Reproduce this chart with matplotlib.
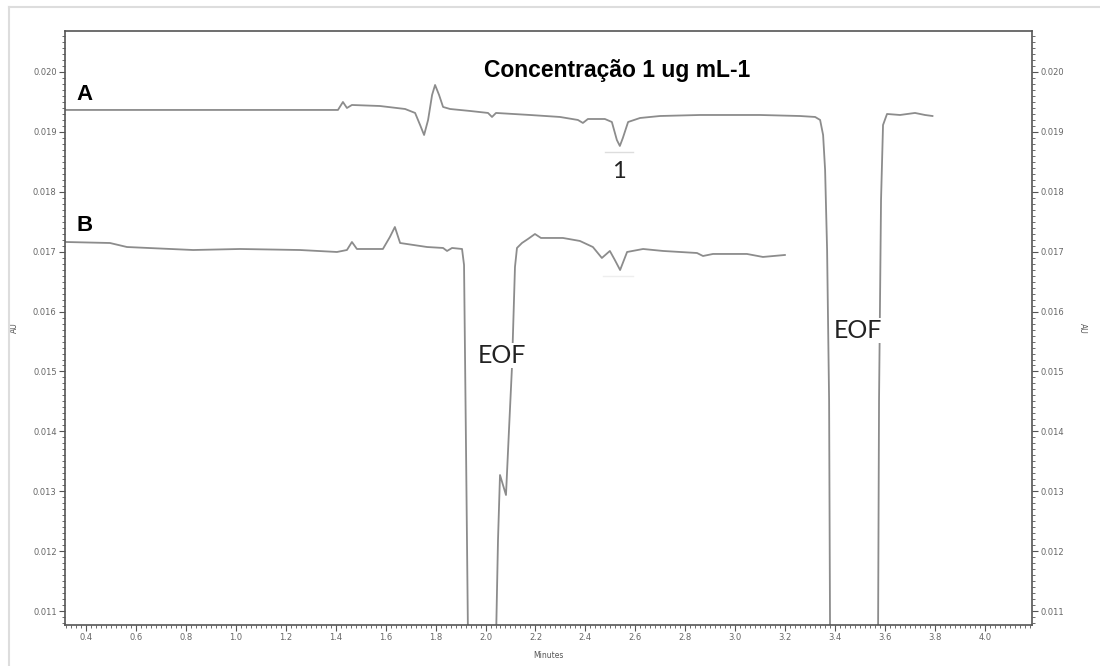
import matplotlib
matplotlib.use("Agg")
import matplotlib.pyplot as plt
from matplotlib.ticker import MultipleLocator, FormatStrFormatter
from matplotlib.lines import Line2D

# ---- data ----
a_x = [0.316, 0.857, 1.257, 1.409, 1.429, 1.445, 1.465, 1.577, 1.678, 1.718, 1.738, 1.754,
       1.770, 1.786, 1.798, 1.814, 1.830, 1.858, 1.938, 2.010, 2.026, 2.042, 2.178, 2.298,
       2.370, 2.390, 2.410, 2.478, 2.506, 2.526, 2.538, 2.550, 2.571, 2.619, 2.699, 2.859,
       3.099, 3.259, 3.320, 3.340, 3.352, 3.360, 3.368, 3.376, 3.380]
a_y = [0.019366, 0.019366, 0.019366, 0.019366, 0.019499, 0.019399, 0.019449, 0.019432,
       0.019382, 0.019316, 0.019115, 0.018948, 0.019199, 0.019616, 0.019783, 0.019616,
       0.019416, 0.019382, 0.019349, 0.019316, 0.019249, 0.019316, 0.019282, 0.019249,
       0.019199, 0.019149, 0.019215, 0.019215, 0.019165, 0.018865, 0.018765, 0.018898,
       0.019165, 0.019232, 0.019265, 0.019282, 0.019282, 0.019265, 0.019249, 0.019199,
       0.018948, 0.018364, 0.017028, 0.014524, 0.010500]
a2_x = [3.572, 3.576, 3.584, 3.592, 3.608, 3.660, 3.720, 3.760, 3.790]
a2_y = [0.010500, 0.014524, 0.017863, 0.019115, 0.019299, 0.019282, 0.019316, 0.019282, 0.019265]

b_x = [0.316, 0.496, 0.564, 0.829, 1.017, 1.257, 1.405, 1.445, 1.465, 1.485, 1.589, 1.617,
       1.637, 1.658, 1.766, 1.830, 1.846, 1.866, 1.906, 1.914, 1.922, 1.930]
b_y = [0.017162, 0.017145, 0.017078, 0.017028, 0.017045, 0.017028, 0.016995, 0.017028,
       0.017162, 0.017045, 0.017045, 0.017245, 0.017412, 0.017145, 0.017078, 0.017062,
       0.017012, 0.017062, 0.017045, 0.016778, 0.013689, 0.010500]
b2_x = [2.042, 2.050, 2.058, 2.070, 2.082, 2.094, 2.106, 2.118, 2.126, 2.146, 2.170, 2.198,
        2.222, 2.310, 2.378, 2.430, 2.466, 2.498, 2.518, 2.539, 2.567, 2.631, 2.711, 2.847,
        2.871, 2.911, 3.047, 3.111, 3.199]
b2_y = [0.010500, 0.012187, 0.013272, 0.013105, 0.012938, 0.014023, 0.015075, 0.016745,
        0.017062, 0.017145, 0.017212, 0.017295, 0.017229, 0.017229, 0.017179, 0.017078,
        0.016895, 0.017012, 0.016861, 0.016694, 0.016995, 0.017045, 0.017012, 0.016978,
        0.016928, 0.016962, 0.016962, 0.016912, 0.016945]

title_text = "Concentração 1 ug mL-1"
x_ticks = [0.4, 0.6, 0.8, 1.0, 1.2, 1.4, 1.6, 1.8, 2.0, 2.2, 2.4, 2.6, 2.8, 3.0, 3.2, 3.4, 3.6, 3.8, 4.0]
y_ticks = [0.011, 0.012, 0.013, 0.014, 0.015, 0.016, 0.017, 0.018, 0.019, 0.020]

fig = plt.figure(figsize=(11, 6.66), dpi=100)
fig.patch.set_facecolor("white")
ax = fig.add_axes([65/1100, 1-625/666, (1032-65)/1100, (625-31)/666])
ax.set_xlim(0.3159, 4.1886)
ax.set_ylim(0.010768, 0.020684)

line_col = "#8c8c8c"
for xs, ys in [(a_x, a_y), (a2_x, a2_y), (b_x, b_y), (b2_x, b2_y)]:
    ax.plot(xs, ys, color=line_col, lw=1.3, solid_joinstyle="round", clip_on=True)

# faint peak-marker underlines
ax.plot([2.48, 2.59], [0.018665, 0.018665], color="#dddddd", lw=1.0)
ax.plot([2.47, 2.59], [0.016595, 0.016595], color="#eeeeee", lw=1.0)

# axes styling
spine_col = "#555555"
for s in ax.spines.values():
    s.set_color(spine_col)
    s.set_linewidth(1.2)
ax.set_xticks(x_ticks)
ax.set_yticks(y_ticks)
ax.xaxis.set_minor_locator(MultipleLocator(0.02))
ax.yaxis.set_minor_locator(MultipleLocator(0.0001))
ax.yaxis.set_major_formatter(FormatStrFormatter("%.3f"))
ax.xaxis.set_major_formatter(FormatStrFormatter("%.1f"))
ax.tick_params(axis="both", which="major", direction="out", length=4, width=0.8,
               color=spine_col, labelsize=6, labelcolor="#666666", pad=2)
ax.tick_params(axis="both", which="minor", direction="out", length=2, width=0.6, color=spine_col)
ax.tick_params(axis="y", which="both", left=True, right=True, labelleft=True, labelright=True)
ax.tick_params(axis="x", which="both", top=False)

ax.set_xlabel("Minutes", fontsize=5.5, color="#555555", labelpad=6)
ax.set_ylabel("AU", fontsize=5.5, color="#555555", labelpad=10)
ax.text(1.052, 0.5, "AU", transform=ax.transAxes, rotation=270, fontsize=5.5,
        color="#555555", ha="center", va="center")

# annotations
ax.text(0.394, 0.019624, "A", fontsize=16, fontweight="bold", family="Liberation Sans",
        ha="center", va="center", color="black")
ax.text(0.396, 0.017429, "B", fontsize=16, fontweight="bold", family="Liberation Sans",
        ha="center", va="center", color="black")
ax.text(2.5286, 0.019917, title_text, fontsize=16.5, fontweight="bold",
        family="Liberation Sans", ha="center", va="baseline", color="black")
ax.text(2.5346, 0.018230, "1", fontsize=17, family="Lato", ha="center", va="baseline",
        color="#222222")
bbox = dict(facecolor="white", edgecolor="none", pad=0.5)
ax.text(2.064, 0.015142, "EOF", fontsize=18, family="Lato", ha="center", va="baseline",
        color="#222222", bbox=bbox)
ax.text(3.492, 0.015559, "EOF", fontsize=18, family="Lato", ha="center", va="baseline",
        color="#222222", bbox=bbox)

# light frame around the figure
fig.add_artist(Line2D([9/1100, 1.0], [1-7/666, 1-7/666], color="#dddddd", lw=1.5))
fig.add_artist(Line2D([9/1100, 9/1100], [0.0, 1-7/666], color="#dddddd", lw=1.5))

fig.savefig("out.png", dpi=100, facecolor="white")
